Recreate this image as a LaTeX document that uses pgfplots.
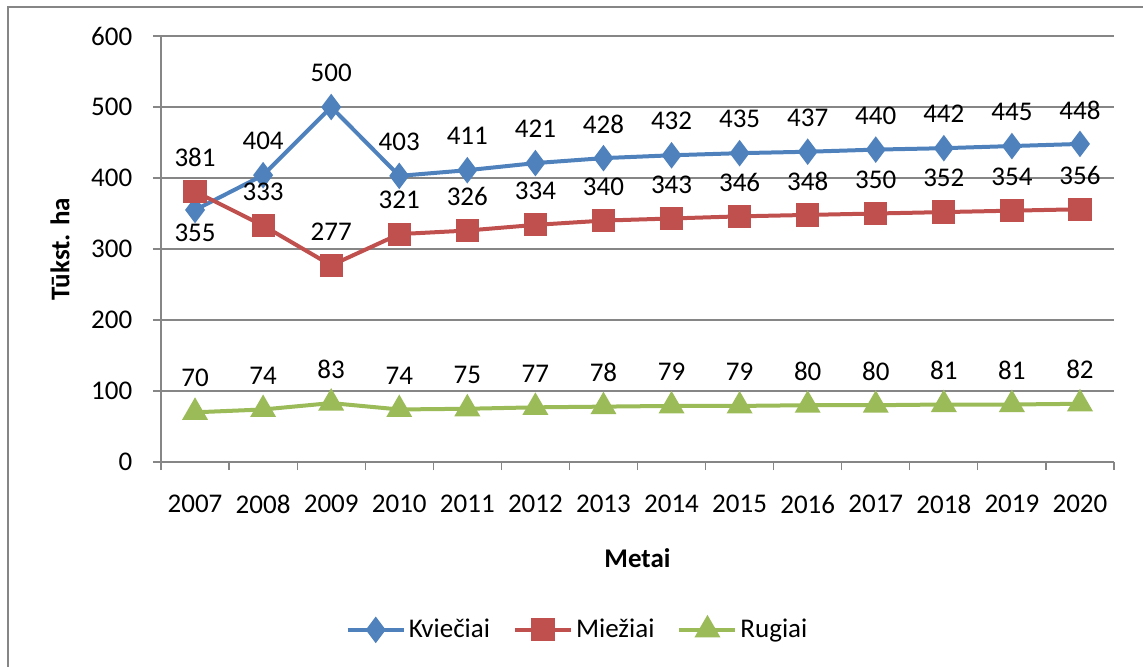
\documentclass[border=0pt]{standalone}
\usepackage{fontspec}
\setmainfont{Carlito}
\usepackage{pgfplots}
\pgfplotsset{compat=1.18}
\definecolor{kv}{HTML}{4F81BD}
\definecolor{mi}{HTML}{C0504D}
\definecolor{ru}{HTML}{9BBB59}
\definecolor{gridc}{HTML}{868686}
\pgfplotstableread{
x kv mi ru
0 355 381 70
1 404 333 74
2 500 277 83
3 403 321 74
4 411 326 75
5 421 334 77
6 428 340 78
7 432 343 79
8 435 346 79
9 437 348 80
10 440 350 80
11 442 352 81
12 445 354 81
13 448 356 82
}\datatable
\begin{document}
\fontsize{13.5}{16}\selectfont
\begin{tikzpicture}
\useasboundingbox (-80.5pt,-102pt) rectangle (491pt,231pt);
\draw[gridc, line width=0.6pt] (-76.5pt,-103pt) rectangle (492pt,227.5pt);
\begin{axis}[
  at={(0,0)}, anchor=south west,
  width=476.5pt, height=213pt, scale only axis,
  xmin=-0.5, xmax=13.5, ymin=0, ymax=600,
  xtick={0,...,13},
  xticklabels={2007,2008,2009,2010,2011,2012,2013,2014,2015,2016,2017,2018,2019,2020},
  minor xtick={-0.5,0.5,...,13.5},
  ytick={0,100,...,600},
  ymajorgrids, grid style={gridc, line width=0.6pt},
  axis x line*=bottom, axis y line*=left,
  axis line style={gridc, line width=0.6pt, -},
  tick align=outside,
  major x tick style={draw=none},
  minor x tick style={gridc, line width=0.6pt},
  ytick style={gridc, line width=0.6pt},
  major tick length=4pt, minor tick length=4pt,
  tick label style={font=\fontsize{13.5}{16}\selectfont, text=black},
  xticklabel style={yshift=-8pt},
  yticklabel style={xshift=-5.7pt},
  /pgf/number format/assume math mode=true,
  xlabel={\textbf{Metai}}, ylabel={\textbf{Tūkst. ha}},
  every axis x label/.style={at={(axis description cs:0.5,0)}, anchor=center, yshift=-48pt, font=\fontsize{13.5}{16}\selectfont},
  every axis y label/.style={at={(axis description cs:-0.106,0.5)}, anchor=center, rotate=90, font=\fontsize{13.5}{16}\selectfont},
  clip=false,
  every node near coord/.append style={anchor=center, yshift=17pt, font=\fontsize{13.5}{16}\selectfont, text=black},
  legend style={at={(axis description cs:0.4376,-0.394)}, anchor=center, legend columns=3, draw=none, font=\fontsize{13.5}{16}\selectfont,
    /tikz/every even column/.append style={column sep=10pt}, nodes={inner sep=1.5pt}},
  legend image code/.code={\draw[mark repeat=2, mark phase=2] plot coordinates {(0pt,0pt)(14pt,0pt)(28pt,0pt)};},
]
\addplot[kv, line width=2pt, mark=diamond*, mark size=5pt, mark options={solid}, nodes near coords,
  coordinate style/.condition={\coordindex==0}{yshift=-28.5pt}] table[x=x, y=kv] {\datatable};
\addlegendentry{Kviečiai}
\addplot[mi, line width=2pt, mark=square*, mark size=4.8pt, nodes near coords] table[x=x, y=mi] {\datatable};
\addlegendentry{Miežiai}
\addplot[ru, line width=2pt, mark=triangle*, mark size=5.5pt, nodes near coords] table[x=x, y=ru] {\datatable};
\addlegendentry{Rugiai}
\end{axis}
\end{tikzpicture}
\end{document}
